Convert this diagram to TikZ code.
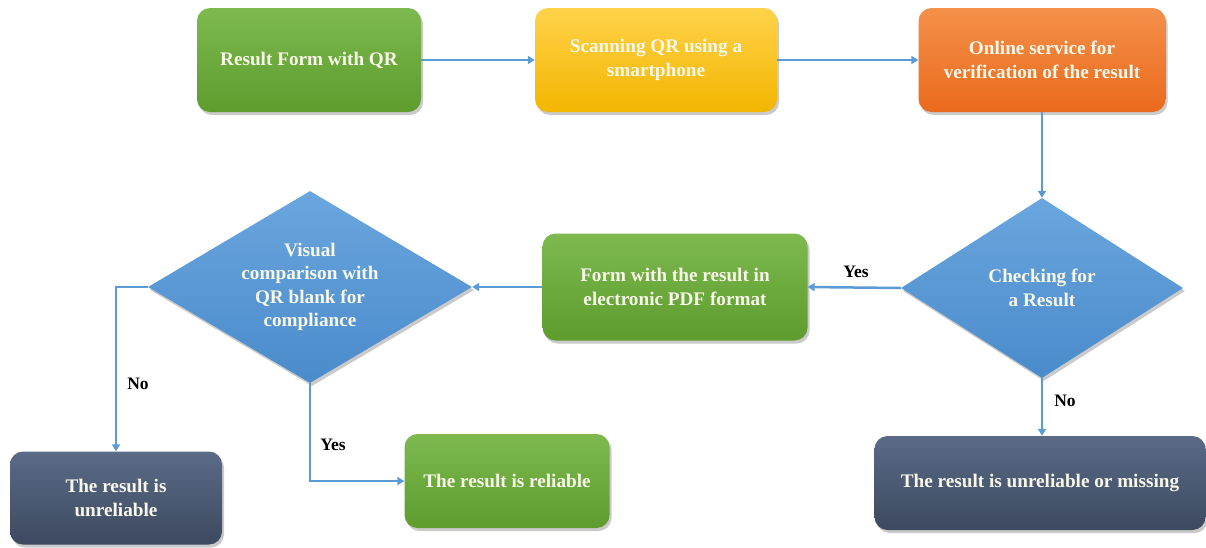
\documentclass[tikz,border=0pt]{standalone}
\usepackage{fontspec}
\setmainfont{Liberation Serif}
\usetikzlibrary{shapes.geometric,arrows.meta,shadows}
\definecolor{gtop}{HTML}{7DB94F}
\definecolor{gbot}{HTML}{5E9C2E}
\definecolor{ytop}{HTML}{FFD24A}
\definecolor{ybot}{HTML}{F2B600}
\definecolor{otop}{HTML}{F4904A}
\definecolor{obot}{HTML}{EA6A1C}
\definecolor{btop}{HTML}{6AA6DE}
\definecolor{bbot}{HTML}{4A8BCB}
\definecolor{dtop}{HTML}{5B6B86}
\definecolor{dbot}{HTML}{3C4960}
\definecolor{arrc}{HTML}{5B9BD5}
\definecolor{txtc}{HTML}{F8F8EA}
\begin{document}
\begin{tikzpicture}[x=1pt,y=-1pt,
  every node/.style={font=\fontsize{19.2}{23.5}\selectfont\bfseries},
  shad/.style={drop shadow={shadow xshift=2pt,shadow yshift=-3pt,opacity=0.35,fill=black!60}},
  boxbase/.style={rounded corners=13pt, align=center, text=txtc, inner sep=2pt, shad},
  greenbox/.style={boxbase, top color=gtop, bottom color=gbot},
  yellowbox/.style={boxbase, top color=ytop, bottom color=ybot},
  orangebox/.style={boxbase, top color=otop, bottom color=obot},
  darkbox/.style={boxbase, top color=dtop, bottom color=dbot},
  decision/.style={diamond, align=center, text=txtc, inner sep=0pt, top color=btop, bottom color=bbot, shad},
  arr/.style={draw=arrc, line width=2.5pt, -{Triangle[width=8pt,length=7pt]}},
  lbl/.style={text=black, font=\fontsize{17.5}{20}\selectfont\bfseries}
]
\useasboundingbox (0,0) rectangle (1206,547);

\node[greenbox, minimum width=224, minimum height=104] (b1) at (309,60) {Result Form with QR};
\node[yellowbox, minimum width=242, minimum height=104] (b2) at (656,60) {Scanning QR using a\\smartphone};
\node[orangebox, minimum width=247, minimum height=104] (b3) at (1042,60) {Online service for\\verification of the result};
\node[decision, aspect=1.57, minimum width=282, minimum height=180] (d1) at (1042,288) {Checking for\\a Result};
\node[greenbox, minimum width=265, minimum height=107] (b4) at (675,287) {Form with the result in\\electronic PDF format};
\node[decision, aspect=1.69, minimum width=324, minimum height=192] (d2) at (310,287) {Visual\\comparison with\\QR blank for\\compliance};
\node[darkbox, minimum width=212, minimum height=93] (b5) at (116,498) {The result is\\unreliable};
\node[greenbox, minimum width=205, minimum height=94] (b6) at (507,481) {The result is reliable};
\node[darkbox, minimum width=331, minimum height=94] (b7) at (1040,483) {The result is unreliable or missing};

\draw[arr] (b1) -- (b2);
\draw[arr] (b2) -- (b3);
\draw[arr] (b3) -- (d1);
\draw[arr] (d1.west) -- (b4.east);
\draw[arr] (b4.west) -- (d2.east);
\draw[arr] (d2.west) -| (b5.north);
\draw[arr] (d2.south) |- (b6.west);
\draw[arr] (d1.south) -- (d1.south |- b7.north);

\node[lbl] (yes1) at (856,272) {Yes};
\node[lbl] (no1) at (138,384) {No};
\node[lbl] (yes2) at (333,445) {Yes};
\node[lbl] (no2) at (1065,401) {No};
\end{tikzpicture}
\end{document}
